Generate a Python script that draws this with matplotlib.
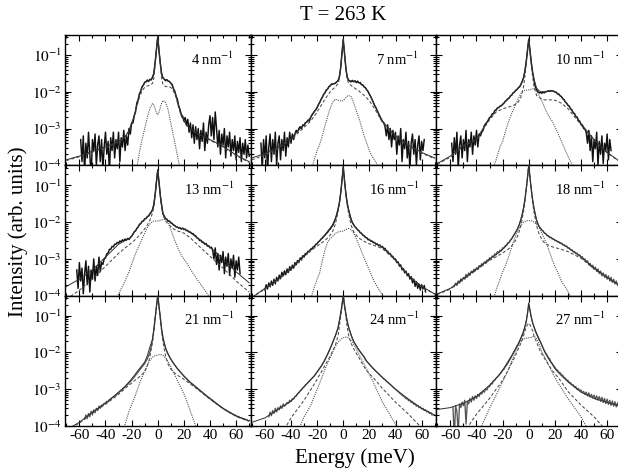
import numpy as np
import matplotlib
matplotlib.use('Agg')
import matplotlib.pyplot as plt
from matplotlib.ticker import MultipleLocator, LogLocator, NullFormatter

plt.rcParams['font.family'] = ['Liberation Serif', 'DejaVu Serif']
plt.rcParams['mathtext.fontset'] = 'stix'
plt.rcParams['axes.unicode_minus'] = False

N = None

# ---------------- data ----------------
TITLE = 'T = 263 K'
Q_VALUES = [4, 7, 10, 13, 16, 18, 21, 24, 27]

ENERGY = [-63, -62, -61, -60, -59, -58, -57, -56, -55, -54,
          -53, -52, -51, -50, -49, -48, -47, -46, -45, -44,
          -43, -42, -41, -40, -39, -38, -37, -36, -35, -34,
          -33, -32, -31, -30, -29, -28, -27, -26, -25, -24,
          -23, -22, -21, -20, -19, -18, -17, -16, -15, -14,
          -13, -12, -11, -10, -9, -8, -7, -6, -5, -4,
          -3, -2, -1, 0, 1, 2, 3, 4, 5, 6,
          7, 8, 9, 10, 11, 12, 13, 14, 15, 16,
          17, 18, 19, 20, 21, 22, 23, 24, 25, 26,
          27, 28, 29, 30, 31, 32, 33, 34, 35, 36,
          37, 38, 39, 40, 41, 42, 43, 44, 45, 46,
          47, 48, 49, 50, 51, 52, 53, 54, 55, 56,
          57, 58, 59, 60, 61, 62, 63, 64, 65, 66,
          67, 68, 69, 70]

# measured spectra, log10(intensity)
DATA_4 = [N, N, N, N, -3.3, -3.9, -3.2, -4.2, -3.4, -3.8,
          -3.1, -3.7, -4.3, -3.3, -3.6, -3.15, -4.0, -3.45, -3.2, -3.9,
          -3.3, -4.1, -3.5, -3.1, -3.7, -3.35, -4.2, -3.25, -3.6, -3.1,
          -3.8, -3.3, -3.55, -3.1, -3.9, -3.25, -3.5, -3.05, -3.6, -3.2,
          -3.45, -3.0, -3.15, -2.85, -2.85, -2.65, -2.55, -2.3, -2.22, -2.05,
          -1.98, -1.86, -1.82, -1.74, -1.73, -1.68, -1.72, -1.66, -1.68, -1.6,
          -1.5, -1.2, -0.85, -0.5, -0.9, -1.25, -1.52, -1.62, -1.66, -1.7,
          -1.67, -1.71, -1.72, -1.77, -1.8, -1.92, -1.98, -2.12, -2.2, -2.38,
          -2.48, -2.62, -2.66, -2.78, -2.7, -2.9, -2.75, -3.1, -2.85, -3.25,
          -2.9, -3.4, -2.95, -3.3, -3.0, -3.55, -3.05, -3.35, -2.85, -3.6,
          -3.1, -3.4, -2.9, -2.65, -3.2, -2.7, -3.3, -2.55, -3.0, -3.5,
          -3.05, -3.7, -3.15, -3.45, -3.0, -3.8, -3.2, -3.5, -3.1, -3.75,
          -3.3, -3.6, -3.2, -3.85, -3.35, -3.65, -3.25, -3.9, -3.4, -3.7,
          -3.3, -3.8, -3.45, -3.75]
DATA_7 = [-3.4, -4.1, -3.3, -3.8, -3.2, -4.2, -3.5, -3.15, -3.9, -3.3,
          -3.7, -3.1, -4.0, -3.4, -3.2, -3.85, -3.3, -3.6, -3.1, -3.75,
          -3.25, -3.5, -3.1, -3.4, -3.15, -3.3, -3.15, -3.05, -3.1, -3.0,
          -2.95, -3.0, -2.9, -2.92, -2.84, -2.83, -2.77, -2.8, -2.7, -2.63,
          -2.58, -2.53, -2.49, -2.43, -2.35, -2.29, -2.21, -2.15, -2.07, -2.03,
          -1.95, -1.93, -1.86, -1.84, -1.79, -1.79, -1.78, -1.77, -1.73, -1.7,
          -1.6, -1.35, -0.95, -0.58, -0.98, -1.35, -1.6, -1.68, -1.71, -1.73,
          -1.69, -1.73, -1.7, -1.75, -1.71, -1.76, -1.75, -1.81, -1.81, -1.87,
          -1.89, -1.95, -1.99, -2.07, -2.13, -2.21, -2.29, -2.37, -2.43, -2.51,
          -2.59, -2.67, -2.74, -2.81, -2.84, -2.95, -3.2, -2.9, -3.3, -3.0,
          -3.5, -3.05, -3.3, -3.1, -3.7, -3.2, -3.45, -3.0, -3.9, -3.3,
          -3.55, -3.1, -3.8, -3.35, -4.1, -3.4, -3.15, -3.7, -3.3, -4.0,
          -3.45, -3.2, -3.85, -3.35, -3.6, -3.3, N, N, N, N,
          N, N, N, N]
DATA_10 = [N, N, N, N, -3.4, -3.9, -3.25, -3.7, -3.1, -4.1,
           -3.45, -3.2, -3.8, -3.3, -3.6, -3.05, -3.9, -3.3, -3.5, -3.1,
           -3.7, -3.2, -3.45, -3.05, -3.5, -3.15, -3.2, -3.1, -3.05, -2.92,
           -2.87, -2.83, -2.77, -2.7, -2.69, -2.6, -2.6, -2.51, -2.5, -2.44,
           -2.43, -2.39, -2.38, -2.34, -2.31, -2.26, -2.23, -2.19, -2.17, -2.11,
           -2.09, -2.03, -2.01, -1.96, -1.94, -1.89, -1.87, -1.8, -1.72, -1.62,
           -1.45, -1.2, -0.88, -0.57, -0.9, -1.22, -1.48, -1.68, -1.86, -1.95,
           -2.0, -2.03, -2.02, -2.04, -2.01, -2.03, -1.99, -2.0, -1.97, -1.99,
           -1.97, -1.98, -1.98, -2.01, -2.01, -2.06, -2.06, -2.11, -2.13, -2.19,
           -2.21, -2.28, -2.31, -2.37, -2.39, -2.46, -2.49, -2.57, -2.59, -2.67,
           -2.69, -2.77, -2.8, -2.89, -2.9, -3.0, -3.02, -3.1, -3.4, -3.05,
           -3.6, -3.2, -3.9, -3.3, -3.55, -3.1, -4.0, -3.35, -3.7, -3.2,
           -3.95, -3.4, -3.6, -3.15, -3.85, -3.3, -3.6, N, N, N,
           N, N, N, N]
DATA_13 = [N, -3.3, -3.8, -3.1, -3.6, -3.25, -3.95, -3.4, -3.05, -3.7,
           -3.2, -3.9, -3.3, -3.55, -3.0, -3.6, -3.2, -3.45, -2.95, -3.35,
           -3.1, -3.15, -3.0, -2.97, -2.86, -2.84, -2.74, -2.74, -2.66, -2.67,
           -2.6, -2.6, -2.55, -2.57, -2.51, -2.54, -2.48, -2.51, -2.46, -2.49,
           -2.44, -2.47, -2.42, -2.38, -2.33, -2.26, -2.24, -2.17, -2.13, -2.06,
           -2.04, -1.98, -1.97, -1.91, -1.9, -1.85, -1.83, -1.77, -1.73, -1.66,
           -1.52, -1.25, -0.9, -0.58, -0.92, -1.28, -1.55, -1.78, -1.84, -1.91,
           -1.92, -1.97, -1.97, -2.02, -2.03, -2.08, -2.09, -2.13, -2.13, -2.16,
           -2.15, -2.19, -2.16, -2.2, -2.19, -2.23, -2.23, -2.27, -2.27, -2.31,
           -2.31, -2.36, -2.37, -2.43, -2.44, -2.5, -2.49, -2.55, -2.55, -2.6,
           -2.58, -2.65, -2.64, -2.7, -2.68, -2.75, -3.0, -2.7, -3.15, -2.85,
           -3.3, -2.9, -3.1, -2.8, -3.4, -2.95, -3.2, -2.85, -3.45, -3.0,
           -3.25, -2.9, -3.5, -3.05, -3.3, -2.95, -3.4, N, N, N,
           N, N, N, N]
DATA_16 = [N, N, N, -3.85, -3.7, -3.82, -3.65, -3.76, -3.6, -3.72,
           -3.55, -3.68, -3.5, -3.6, -3.44, -3.54, -3.36, -3.46, -3.32, -3.43,
           -3.27, -3.37, -3.21, -3.31, -3.17, -3.25, -3.1, -3.16, -3.04, -3.1,
           -2.97, -3.03, -2.91, -2.95, -2.85, -2.88, -2.79, -2.81, -2.73, -2.74,
           -2.67, -2.67, -2.6, -2.59, -2.53, -2.51, -2.46, -2.44, -2.39, -2.36,
           -2.31, -2.28, -2.22, -2.19, -2.13, -2.09, -2.0, -1.91, -1.8, -1.65,
           -1.48, -1.22, -0.88, -0.5, -0.88, -1.22, -1.48, -1.65, -1.8, -1.92,
           -2.02, -2.07, -2.13, -2.16, -2.21, -2.23, -2.29, -2.3, -2.36, -2.37,
           -2.42, -2.42, -2.48, -2.47, -2.52, -2.51, -2.56, -2.55, -2.6, -2.59,
           -2.64, -2.62, -2.68, -2.66, -2.72, -2.71, -2.78, -2.79, -2.85, -2.86,
           -2.92, -2.93, -3.01, -3.0, -3.1, -3.08, -3.2, -3.16, -3.3, -3.26,
           -3.38, -3.33, -3.46, -3.4, -3.55, -3.48, -3.65, -3.55, -3.75, -3.62,
           -3.8, -3.68, -3.85, -3.7, -3.82, -3.72, -3.9, N, N, N,
           N, N, N, N]
DATA_18 = [N, N, N, N, N, N, -3.75, -3.66, -3.72, -3.6,
           -3.66, -3.54, -3.6, -3.5, -3.55, -3.42, -3.5, -3.38, -3.44, -3.33,
           -3.38, -3.28, -3.33, -3.24, -3.29, -3.18, -3.22, -3.13, -3.17, -3.08,
           -3.12, -3.03, -3.06, -2.97, -3.01, -2.92, -2.95, -2.86, -2.89, -2.8,
           -2.83, -2.76, -2.78, -2.7, -2.7, -2.64, -2.62, -2.56, -2.55, -2.48,
           -2.45, -2.38, -2.33, -2.27, -2.22, -2.14, -2.05, -1.92, -1.8, -1.62,
           -1.4, -1.12, -0.8, -0.45, -0.8, -1.12, -1.4, -1.62, -1.8, -1.95,
           -2.05, -2.12, -2.17, -2.21, -2.24, -2.3, -2.31, -2.37, -2.37, -2.42,
           -2.41, -2.46, -2.46, -2.5, -2.5, -2.54, -2.53, -2.58, -2.57, -2.62,
           -2.61, -2.66, -2.65, -2.71, -2.7, -2.76, -2.75, -2.81, -2.8, -2.86,
           -2.84, -2.91, -2.89, -2.96, -2.94, -3.02, -3.0, -3.08, -3.05, -3.16,
           -3.12, -3.22, -3.17, -3.28, -3.22, -3.34, -3.27, -3.4, -3.33, -3.46,
           -3.38, -3.5, -3.42, -3.55, -3.46, -3.6, -3.5, -3.64, -3.55, -3.68,
           -3.6, -3.72, -3.64, -3.75]
DATA_21 = [N, N, N, N, N, N, N, -3.82, -3.7, -3.8,
           -3.66, -3.75, -3.6, -3.7, -3.56, -3.64, -3.52, -3.58, -3.46, -3.52,
           -3.43, -3.44, -3.38, -3.39, -3.33, -3.34, -3.28, -3.28, -3.23, -3.22,
           -3.18, -3.17, -3.12, -3.1, -3.06, -3.04, -3.0, -2.97, -2.94, -2.9,
           -2.87, -2.83, -2.79, -2.75, -2.71, -2.67, -2.62, -2.58, -2.53, -2.48,
           -2.44, -2.39, -2.35, -2.3, -2.24, -2.17, -2.09, -1.98, -1.84, -1.64,
           -1.38, -1.06, -0.75, -0.45, -0.75, -1.06, -1.38, -1.6, -1.75, -1.88,
           -1.98, -2.05, -2.12, -2.18, -2.24, -2.29, -2.34, -2.39, -2.44, -2.48,
           -2.52, -2.56, -2.6, -2.64, -2.68, -2.71, -2.75, -2.78, -2.82, -2.84,
           -2.88, -2.9, -2.94, -2.96, -3.0, -3.02, -3.06, -3.08, -3.12, -3.14,
           -3.18, -3.2, -3.24, -3.25, -3.29, -3.3, -3.35, -3.36, -3.4, -3.42,
           -3.45, -3.47, -3.5, -3.52, -3.55, -3.56, -3.6, -3.6, -3.64, -3.64,
           -3.67, -3.68, -3.71, -3.71, -3.75, -3.74, -3.78, -3.77, -3.8, -3.8,
           -3.83, -3.82, -3.86, -3.85]
DATA_24 = [N, N, N, N, N, N, -3.75, -3.62, -3.72, -3.58,
           -3.66, -3.52, -3.62, -3.5, -3.56, -3.45, -3.52, -3.4, -3.46, -3.42,
           -3.36, -3.38, -3.3, -3.33, -3.26, -3.27, -3.2, -3.19, -3.12, -3.1,
           -3.04, -3.02, -2.96, -2.94, -2.89, -2.86, -2.82, -2.79, -2.74, -2.71,
           -2.67, -2.63, -2.58, -2.53, -2.48, -2.43, -2.38, -2.32, -2.26, -2.19,
           -2.12, -2.05, -1.97, -1.89, -1.81, -1.72, -1.63, -1.54, -1.44, -1.33,
           -1.15, -0.95, -0.72, -0.45, -0.72, -0.95, -1.15, -1.3, -1.42, -1.52,
           -1.63, -1.7, -1.76, -1.82, -1.88, -1.93, -1.98, -2.03, -2.08, -2.12,
           -2.2, -2.24, -2.28, -2.32, -2.36, -2.4, -2.44, -2.47, -2.51, -2.54,
           -2.58, -2.61, -2.65, -2.68, -2.72, -2.74, -2.78, -2.81, -2.84, -2.87,
           -2.9, -2.94, -2.97, -3.0, -3.03, -3.06, -3.1, -3.13, -3.16, -3.19,
           -3.21, -3.26, -3.25, -3.31, -3.3, -3.36, -3.35, -3.41, -3.4, -3.46,
           -3.44, -3.5, -3.48, -3.54, -3.52, -3.58, -3.56, -3.62, -3.6, -3.66,
           -3.64, -3.7, N, N]
DATA_27 = [N, N, N, N, N, -3.5, -4.3, -3.45, -3.6, -4.2,
           -3.4, -3.5, -3.35, -3.45, -3.3, -3.95, -3.33, -3.4, -3.25, -3.35,
           -3.2, -3.3, -3.18, -3.25, -3.14, -3.2, -3.1, -3.13, -3.05, -3.08,
           -2.99, -3.02, -2.93, -2.93, -2.85, -2.86, -2.77, -2.76, -2.7, -2.67,
           -2.63, -2.58, -2.55, -2.48, -2.46, -2.39, -2.35, -2.29, -2.23, -2.17,
           -2.1, -2.03, -1.96, -1.89, -1.82, -1.77, -1.7, -1.62, -1.54, -1.45,
           -1.32, -1.18, -0.95, -0.65, -0.85, -1.05, -1.2, -1.3, -1.42, -1.5,
           -1.58, -1.66, -1.72, -1.8, -1.88, -1.95, -2.02, -2.07, -2.14, -2.17,
           -2.26, -2.3, -2.36, -2.4, -2.46, -2.48, -2.54, -2.55, -2.61, -2.62,
           -2.68, -2.7, -2.75, -2.76, -2.82, -2.82, -2.88, -2.88, -2.94, -2.93,
           -3.0, -2.98, -3.04, -3.02, -3.09, -3.06, -3.14, -3.08, -3.18, -3.1,
           -3.21, -3.14, -3.24, -3.16, -3.27, -3.18, -3.3, -3.2, -3.33, -3.22,
           -3.36, -3.25, -3.39, -3.27, -3.41, -3.3, -3.44, -3.32, -3.46, -3.34,
           -3.48, -3.37, -3.5, -3.4]

# fitted curves, log10(intensity): total, quasi-elastic (dashed), inelastic (dotted)
FIT_E = [-70, -60, -50, -40, -30, -25, -22, -20, -18, -16, -14, -12, -10, -8, -6,
         -4, -3, -2, -1, 0, 1, 2, 3, 4, 6, 8, 10, 12, 14, 16, 18, 20, 22, 25, 30,
         40, 50, 60, 70]

TOT_4 = [-3.85, -3.75, -3.62, -3.5, -3.35, -3.22, -3.05, -2.85, -2.65, -2.35,
         -2.07, -1.88, -1.76, -1.71, -1.68, -1.62, -1.5, -1.2, -0.85, -0.5,
         -0.87, -1.22, -1.5, -1.62, -1.68, -1.71, -1.76, -1.9, -2.1, -2.38,
         -2.62, -2.78, -2.9, -3.0, -3.12, -3.3, -3.48, -3.72, -3.9]
QE_4 = [-3.87, -3.77, -3.64, -3.52, -3.37, -3.24, -3.08, -2.88, -2.68, -2.4,
        -2.15, -1.98, -1.88, -1.84, -1.83, -1.77, -1.63, -1.28, -0.88, -0.5,
        -0.9, -1.28, -1.65, -1.8, -1.86, -1.86, -1.88, -1.98, -2.15, -2.43,
        -2.66, -2.81, -2.92, -3.02, -3.14, -3.32, -3.5, -3.74, -3.92]
IN_4 = [-6, -6, -6, -6, -6, -5.5, -5, -4.7, -4.35, -4.05,
        -3.65, -3.3, -3.0, -2.7, -2.45, -2.32, -2.36, -2.46, -2.57, -2.62,
        -2.55, -2.43, -2.3, -2.24, -2.28, -2.5, -2.85, -3.2, -3.55, -3.9,
        -4.2, -4.5, -4.8, -5.2, -6, -6, -6, -6, -6]

TOT_7 = [-3.8, -3.68, -3.5, -3.25, -2.9, -2.7, -2.53, -2.42, -2.28, -2.14,
         -2.02, -1.92, -1.83, -1.79, -1.76, -1.7, -1.6, -1.35, -0.95, -0.58,
         -0.98, -1.35, -1.6, -1.68, -1.71, -1.72, -1.73, -1.75, -1.8, -1.86,
         -1.94, -2.06, -2.2, -2.44, -2.8, -3.2, -3.45, -3.65, -3.8]
QE_7 = [-3.85, -3.72, -3.55, -3.3, -2.97, -2.8, -2.65, -2.55, -2.43, -2.32,
        -2.2, -2.1, -2.0, -1.93, -1.87, -1.78, -1.65, -1.38, -0.97, -0.58,
        -0.98, -1.38, -1.65, -1.76, -1.83, -1.88, -1.93, -1.98, -2.04, -2.1,
        -2.17, -2.25, -2.35, -2.52, -2.83, -3.22, -3.47, -3.67, -3.82]
IN_7 = [-6, -6, -6, -6, -5, -4.2, -3.82, -3.6, -3.42, -3.2,
        -2.92, -2.68, -2.45, -2.28, -2.2, -2.23, -2.24, -2.25, -2.25, -2.24,
        -2.2, -2.16, -2.12, -2.1, -2.13, -2.3, -2.52, -2.72, -2.95, -3.2,
        -3.4, -3.6, -3.75, -3.92, -4.3, -6, -6, -6, -6]

TOT_10 = [-3.95, -3.75, -3.45, -3.28, -2.72, -2.48, -2.4, -2.35, -2.27, -2.2,
          -2.12, -2.04, -1.97, -1.9, -1.8, -1.62, -1.45, -1.2, -0.88, -0.57,
          -0.9, -1.22, -1.48, -1.66, -1.9, -1.98, -2.0, -2.0, -1.99, -1.98,
          -1.98, -2.0, -2.05, -2.14, -2.36, -2.87, -3.3, -3.65, -3.9]
QE_10 = [-3.97, -3.78, -3.48, -3.31, -2.76, -2.55, -2.5, -2.47, -2.44, -2.42,
         -2.4, -2.37, -2.34, -2.28, -2.14, -1.86, -1.6, -1.27, -0.9, -0.57,
         -0.92, -1.27, -1.6, -1.86, -2.1, -2.16, -2.2, -2.22, -2.22, -2.22,
         -2.22, -2.23, -2.26, -2.31, -2.46, -2.9, -3.32, -3.66, -3.91]
IN_10 = [-6, -6, -6, -5.2, -4.35, -3.85, -3.5, -3.35, -3.1, -2.87,
         -2.68, -2.5, -2.33, -2.18, -2.05, -1.98, -1.96, -1.96, -1.95, -1.95,
         -1.94, -1.93, -1.92, -1.92, -1.98, -2.1, -2.25, -2.42, -2.58, -2.7,
         -2.8, -2.95, -3.1, -3.35, -3.75, -4.5, -6, -6, -6]

TOT_13 = [-3.75, -3.55, -3.3, -2.95, -2.6, -2.5, -2.45, -2.38, -2.27, -2.18,
          -2.07, -1.99, -1.92, -1.86, -1.78, -1.66, -1.52, -1.25, -0.9, -0.58,
          -0.92, -1.28, -1.55, -1.76, -1.9, -1.96, -2.01, -2.07, -2.12, -2.15,
          -2.17, -2.18, -2.22, -2.28, -2.42, -2.68, -3.0, -3.35, -3.65]
QE_13 = [-4.1, -3.85, -3.55, -3.2, -2.85, -2.7, -2.62, -2.56, -2.5, -2.43,
         -2.35, -2.27, -2.18, -2.08, -1.95, -1.75, -1.58, -1.28, -0.92, -0.58,
         -0.94, -1.3, -1.6, -1.8, -1.97, -2.05, -2.12, -2.18, -2.22, -2.25,
         -2.27, -2.3, -2.35, -2.43, -2.6, -2.93, -3.25, -3.6, -3.9]
IN_13 = [-6, -6, -6, -5, -3.95, -3.6, -3.35, -3.15, -2.95, -2.77,
         -2.62, -2.45, -2.3, -2.15, -2.05, -1.98, -1.97, -1.97, -1.97, -1.97,
         -1.96, -1.95, -1.94, -1.93, -1.92, -2.0, -2.2, -2.4, -2.58, -2.75,
         -2.9, -3.0, -3.1, -3.28, -3.55, -4.05, -4.5, -6, -6]

TOT_16 = [-4.05, -3.8, -3.55, -3.27, -2.9, -2.74, -2.64, -2.57, -2.5, -2.42,
          -2.34, -2.25, -2.16, -2.06, -1.9, -1.65, -1.48, -1.22, -0.88, -0.5,
          -0.88, -1.22, -1.48, -1.65, -1.92, -2.08, -2.17, -2.24, -2.31, -2.37,
          -2.43, -2.48, -2.52, -2.58, -2.68, -3.02, -3.45, -3.75, -3.95]
QE_16 = [-4.05, -3.82, -3.57, -3.29, -2.93, -2.78, -2.7, -2.65, -2.6, -2.55,
         -2.5, -2.43, -2.35, -2.24, -2.05, -1.72, -1.52, -1.24, -0.89, -0.5,
         -0.89, -1.25, -1.53, -1.74, -2.08, -2.26, -2.36, -2.43, -2.48, -2.52,
         -2.56, -2.59, -2.61, -2.65, -2.72, -3.04, -3.46, -3.76, -3.96]
IN_16 = [-6, -6, -6, -5, -4.4, -4.1, -3.75, -3.55, -3.37, -3.05,
         -2.75, -2.55, -2.44, -2.38, -2.3, -2.27, -2.26, -2.25, -2.25, -2.24,
         -2.22, -2.2, -2.18, -2.17, -2.2, -2.3, -2.45, -2.62, -2.8, -2.98,
         -3.15, -3.3, -3.48, -3.7, -3.98, -4.6, -6, -6, -6]

TOT_18 = [-3.95, -3.8, -3.53, -3.27, -3.0, -2.88, -2.8, -2.74, -2.67, -2.59,
          -2.5, -2.39, -2.27, -2.13, -1.92, -1.62, -1.4, -1.12, -0.8, -0.45,
          -0.8, -1.12, -1.4, -1.62, -1.95, -2.12, -2.21, -2.29, -2.35, -2.4,
          -2.44, -2.48, -2.52, -2.58, -2.69, -2.94, -3.25, -3.5, -3.73]
QE_18 = [-3.97, -3.82, -3.56, -3.3, -3.04, -2.94, -2.88, -2.84, -2.79, -2.74,
         -2.68, -2.6, -2.49, -2.33, -2.1, -1.72, -1.47, -1.15, -0.81, -0.45,
         -0.81, -1.15, -1.47, -1.72, -2.1, -2.33, -2.47, -2.56, -2.61, -2.64,
         -2.67, -2.69, -2.71, -2.74, -2.8, -2.98, -3.27, -3.52, -3.74]
IN_18 = [-6, -6, -6, -6, -4.45, -3.85, -3.55, -3.35, -3.2, -3.0,
         -2.78, -2.56, -2.36, -2.2, -2.08, -2.0, -1.98, -1.97, -1.96, -1.96,
         -1.96, -1.96, -1.98, -2.0, -2.06, -2.15, -2.3, -2.45, -2.62, -2.82,
         -3.02, -3.2, -3.35, -3.6, -3.88, -4.6, -6, -6, -6]

TOT_21 = [-4.1, -3.9, -3.62, -3.38, -3.08, -2.92, -2.8, -2.72, -2.63, -2.53,
          -2.44, -2.35, -2.26, -2.09, -1.85, -1.64, -1.38, -1.06, -0.75, -0.45,
          -0.75, -1.06, -1.38, -1.6, -1.88, -2.05, -2.18, -2.29, -2.39, -2.48,
          -2.56, -2.64, -2.71, -2.82, -2.96, -3.25, -3.52, -3.73, -3.86]
QE_21 = [-4.12, -3.92, -3.64, -3.41, -3.14, -2.98, -2.89, -2.83, -2.77, -2.72,
         -2.66, -2.6, -2.52, -2.38, -2.12, -1.72, -1.43, -1.1, -0.77, -0.45,
         -0.77, -1.1, -1.43, -1.72, -2.1, -2.33, -2.45, -2.53, -2.59, -2.64,
         -2.68, -2.73, -2.78, -2.86, -2.99, -3.27, -3.53, -3.74, -3.87]
IN_21 = [-6, -6, -6, -5, -4.7, -3.95, -3.6, -3.42, -3.25, -3.05,
         -2.85, -2.67, -2.5, -2.33, -2.22, -2.13, -2.1, -2.09, -2.08, -2.07,
         -2.06, -2.06, -2.06, -2.08, -2.15, -2.25, -2.39, -2.55, -2.68, -2.83,
         -2.98, -3.12, -3.3, -3.6, -4.1, -5, -6, -6, -6]

TOT_24 = [-3.9, -3.78, -3.55, -3.33, -2.93, -2.74, -2.63, -2.53, -2.43, -2.33,
          -2.2, -2.05, -1.89, -1.72, -1.54, -1.33, -1.15, -0.95, -0.72, -0.45,
          -0.72, -0.95, -1.15, -1.3, -1.52, -1.7, -1.82, -1.93, -2.03, -2.12,
          -2.24, -2.32, -2.4, -2.51, -2.68, -3.0, -3.27, -3.52, -3.7]
QE_24 = [-6, -6, -4.4, -3.78, -3.3, -3.02, -2.85, -2.73, -2.6, -2.48,
         -2.35, -2.22, -2.1, -1.95, -1.8, -1.55, -1.3, -1.02, -0.74, -0.45,
         -0.74, -1.02, -1.3, -1.52, -1.75, -1.9, -2.02, -2.14, -2.27, -2.39,
         -2.5, -2.58, -2.65, -2.77, -2.98, -3.35, -3.68, -4.05, -6]
IN_24 = [-6, -6, -6, -4.6, -3.75, -3.45, -3.18, -3.0, -2.83, -2.65,
         -2.46, -2.28, -2.15, -1.98, -1.83, -1.72, -1.68, -1.65, -1.62, -1.6,
         -1.59, -1.58, -1.58, -1.6, -1.68, -1.78, -1.9, -2.05, -2.18, -2.32,
         -2.46, -2.6, -2.74, -2.97, -3.35, -3.95, -4.7, -6, -6]

TOT_27 = [-3.55, -3.5, -3.38, -3.2, -2.89, -2.7, -2.58, -2.48, -2.37, -2.25,
          -2.14, -2.02, -1.9, -1.76, -1.6, -1.42, -1.3, -1.15, -0.95, -0.68,
          -0.88, -1.05, -1.2, -1.3, -1.48, -1.63, -1.8, -1.97, -2.1, -2.22,
          -2.32, -2.44, -2.52, -2.63, -2.8, -3.08, -3.25, -3.36, -3.46]
QE_27 = [-6, -6, -4.2, -3.68, -3.25, -3.0, -2.86, -2.75, -2.63, -2.5,
         -2.35, -2.22, -2.07, -1.9, -1.75, -1.55, -1.42, -1.32, -1.25, -1.2,
         -1.25, -1.32, -1.42, -1.55, -1.72, -1.9, -2.04, -2.16, -2.27, -2.38,
         -2.49, -2.58, -2.66, -2.8, -3.06, -3.43, -3.75, -4.15, -6]
IN_27 = [-6, -6, -6, -4.3, -3.52, -3.16, -2.95, -2.8, -2.65, -2.5,
         -2.33, -2.15, -1.98, -1.83, -1.7, -1.64, -1.62, -1.61, -1.61, -1.6,
         -1.6, -1.59, -1.57, -1.56, -1.62, -1.78, -1.98, -2.12, -2.25, -2.4,
         -2.55, -2.68, -2.8, -2.97, -3.25, -3.75, -4.4, -6, -6]

PANELS = [
    (4, DATA_4, TOT_4, QE_4, IN_4),
    (7, DATA_7, TOT_7, QE_7, IN_7),
    (10, DATA_10, TOT_10, QE_10, IN_10),
    (13, DATA_13, TOT_13, QE_13, IN_13),
    (16, DATA_16, TOT_16, QE_16, IN_16),
    (18, DATA_18, TOT_18, QE_18, IN_18),
    (21, DATA_21, TOT_21, QE_21, IN_21),
    (24, DATA_24, TOT_24, QE_24, IN_24),
    (27, DATA_27, TOT_27, QE_27, IN_27),
]

X_TICKS = [-60, -40, -20, 0, 20, 40, 60]
Y_TICKS = [1e-4, 1e-3, 1e-2, 1e-1]
Y_TICKLABELS = [r'$10^{-4}$', r'$10^{-3}$', r'$10^{-2}$', r'$10^{-1}$']

# ---------------- figure ----------------
W, H = 618, 468
fig = plt.figure(figsize=(W / 100, H / 100), dpi=100)

col_left = [65, 250.5, 436]
row_bottom = [302.7, 172.3, 42.0]
pw, ph = 185.5, 130.3

energy = np.array(ENERGY, dtype=float)
fit_e = np.array(FIT_E, dtype=float)

for k, (q, data, tot, qe, inel) in enumerate(PANELS):
    r, c = divmod(k, 3)
    assert len(data) == len(ENERGY), (q, len(data))
    for arr in (tot, qe, inel):
        assert len(arr) == len(FIT_E), (q, len(arr))
    ax = fig.add_axes([col_left[c] / W, row_bottom[r] / H, pw / W, ph / H])
    d = np.array(data, dtype=float)
    if k < 4:
        data_color, data_lw = '#101010', 1.05
    elif k == 4:
        data_color, data_lw = '#151515', 1.0
    else:
        data_color, data_lw = '#555555', 0.95
    ax.plot(energy, 10 ** d, color=data_color, lw=data_lw, zorder=2)
    ax.plot(fit_e, 10 ** np.array(inel), color='#555555', lw=0.8,
            ls=(0, (1.0, 1.0)), zorder=3)
    ax.plot(fit_e, 10 ** np.array(qe), color='#4a4a4a', lw=0.75,
            ls=(0, (3.0, 2.0)), zorder=3)
    ax.plot(fit_e, 10 ** np.array(tot), color='#303030', lw=0.7, zorder=4)

    ax.set_yscale('log')
    ax.set_xlim(-71, 71)
    ax.set_ylim(1e-4, 0.35)
    ax.set_xticks(X_TICKS)
    ax.xaxis.set_minor_locator(MultipleLocator(10))
    ax.set_yticks(Y_TICKS)
    ax.yaxis.set_minor_locator(LogLocator(base=10, subs=np.arange(2, 10)))
    ax.yaxis.set_minor_formatter(NullFormatter())
    ax.tick_params(which='both', direction='in', top=True, right=True,
                   width=0.8, labelsize=11)
    ax.tick_params(which='major', length=4)
    ax.tick_params(which='minor', length=2)
    ax.tick_params(axis='x', pad=2.5)
    ax.tick_params(axis='y', pad=2.5)
    if c == 0:
        ax.set_yticklabels(Y_TICKLABELS)
    else:
        ax.tick_params(labelleft=False)
    if r == 2:
        ax.set_xticklabels([str(t) for t in X_TICKS])
    else:
        ax.tick_params(labelbottom=False)
    for s in ax.spines.values():
        s.set_linewidth(1.0)
    ax.text(0.91, 0.815, f'{q} nm$^{{-1}}$', transform=ax.transAxes,
            ha='right', va='center', fontsize=10.5)

fig.text(343 / W, 1 - 15 / H, TITLE, ha='center', va='center', fontsize=15)
fig.text(355 / W, 0.011, 'Energy (meV)', ha='center', va='baseline', fontsize=15)
fig.text(18 / W, 0.504, 'Intensity (arb. units)', ha='center', va='center',
         rotation=90, fontsize=15)

fig.savefig('out.png', dpi=100)
